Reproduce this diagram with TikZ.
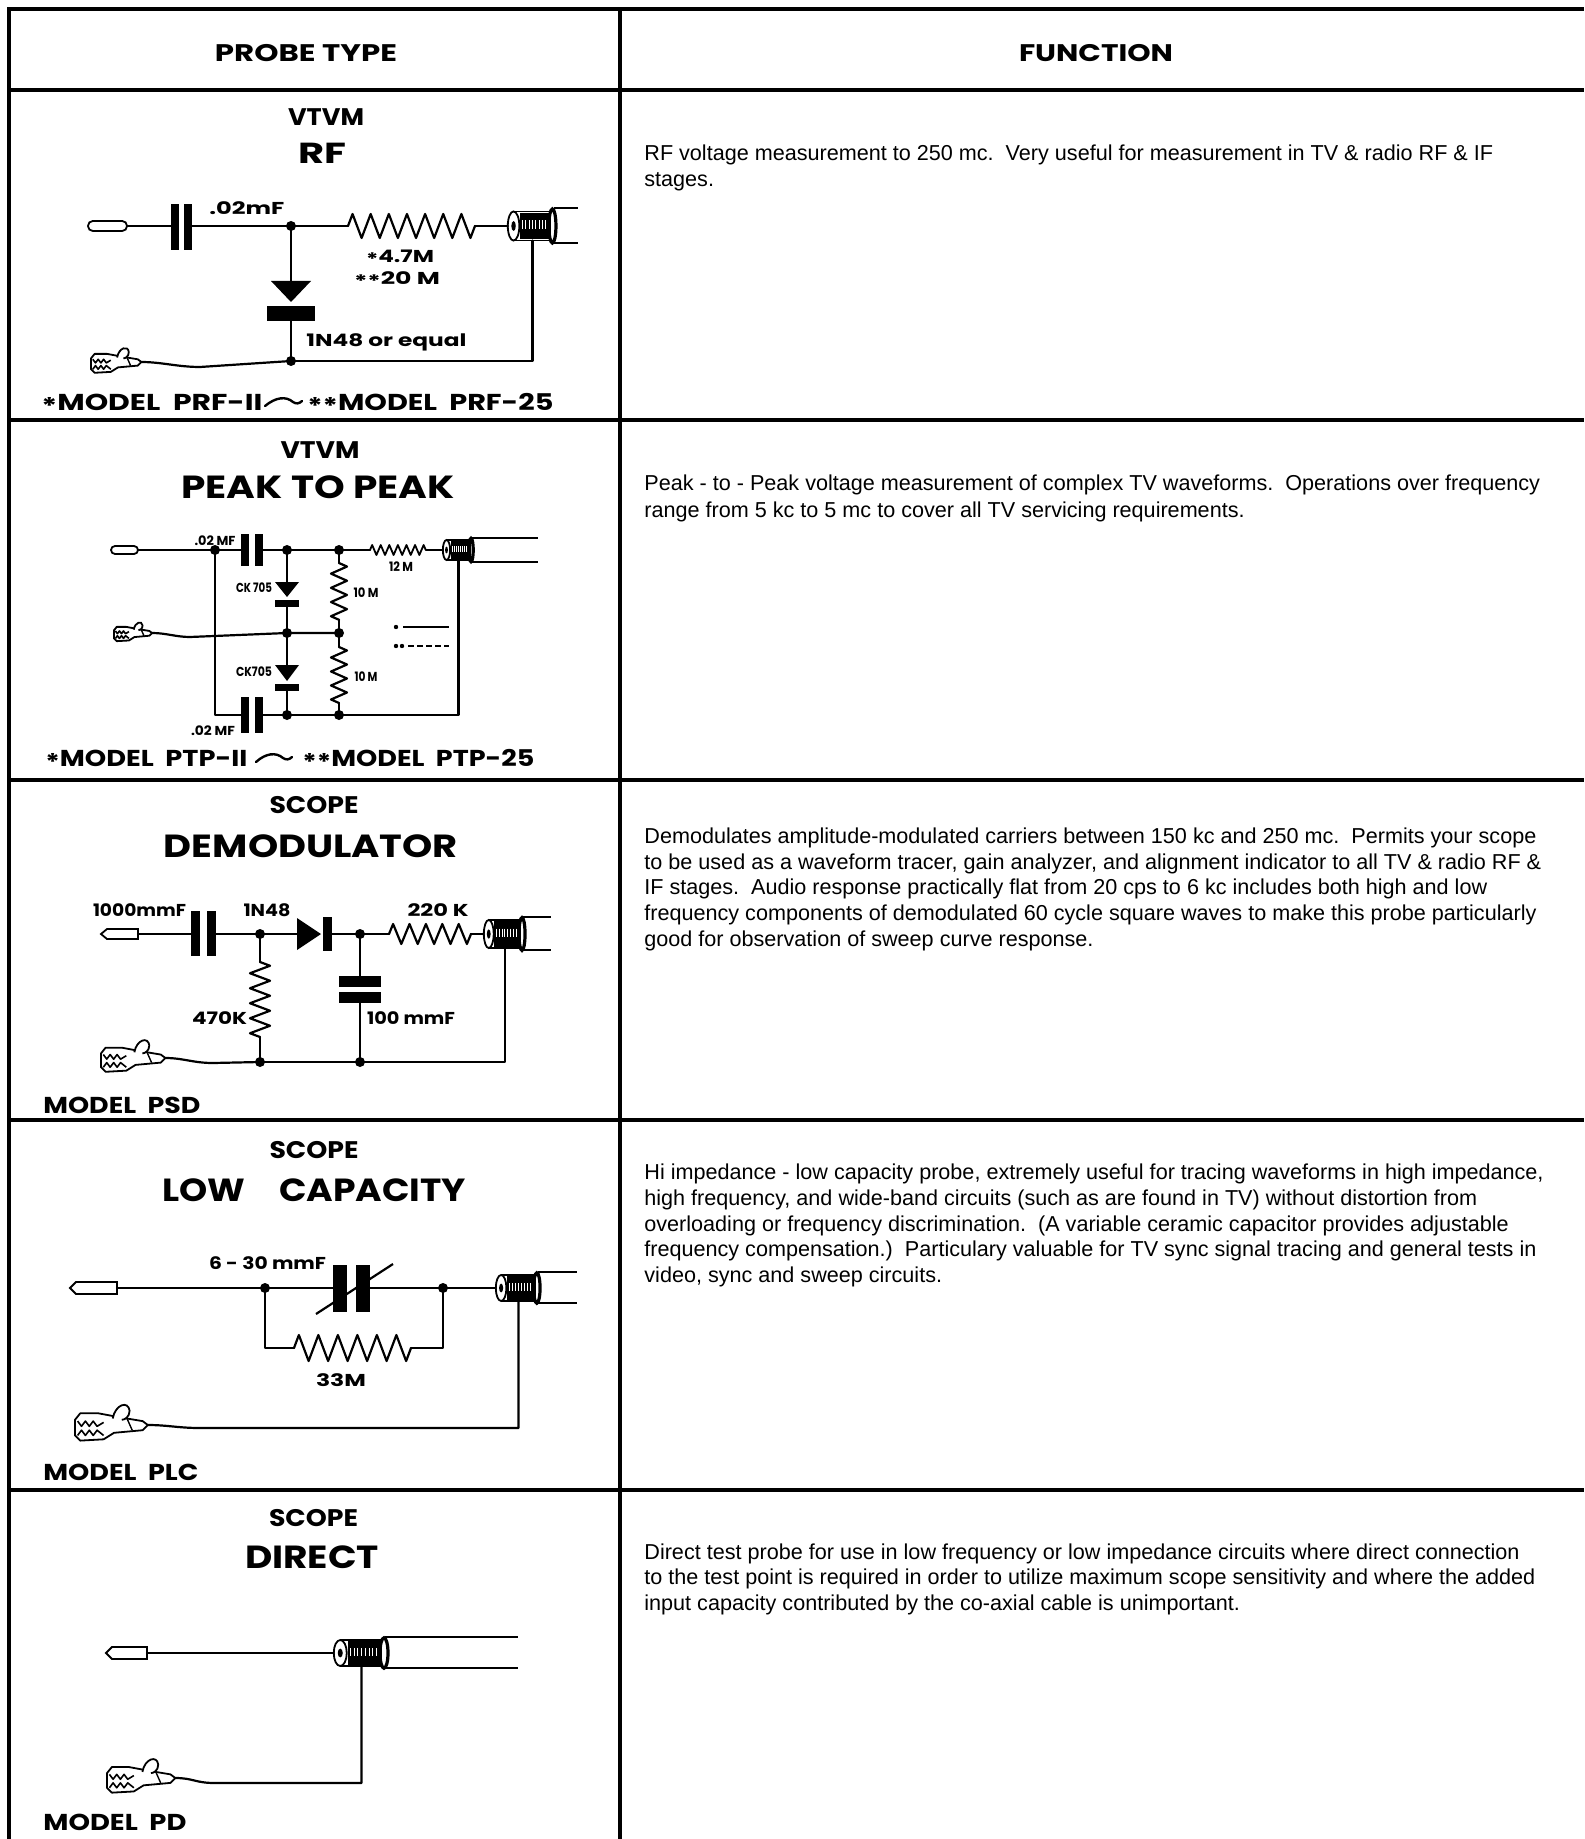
\documentclass[tikz,border=0pt]{standalone}
\usepackage{fontspec}
\usepackage{graphicx}
\usetikzlibrary{decorations.pathmorphing}
\setmainfont{Liberation Sans}
\newfontfamily\tfont{Poppins}
\newlength\pxu \setlength\pxu{0.5pt}
\newcommand\fw[2]{\resizebox{#1\pxu}{\height}{#2}}
\newcommand\stb{\raisebox{-0.3ex}{*}}
% coax connector: name, x-left, y-centre, xscale, yscale, cable end x
\newcommand\coax[6]{%
 \begin{scope}[shift={(#2,#3)}, xscale=#4, yscale=#5]
  \coordinate (#1-in) at (0,0);
  \coordinate (#1-g) at (22,13);
  \draw[line width=0.9pt, fill=white] (5,-13) -- (38,-13) -- (38,13) -- (5,13);
  \fill (11,-12) rectangle (37,12);
  \foreach \i in {13,16,...,35} \draw[white, line width=0.45pt] (\i,-5) -- (\i,3);
  \draw[line width=0.9pt, fill=white] (5,0) ellipse [x radius=2.6pt, y radius=6.5pt];
  \fill (5,0) ellipse [x radius=1pt, y radius=2.2pt];
  \draw[line width=1.6pt] (40,0) ellipse [x radius=1.6pt, y radius=7.6pt];
  \draw[line width=1pt] (41,-16) -- ({(#6-#2)/#4},-16);
  \draw[line width=1pt] (41,15) -- ({(#6-#2)/#4},15);
 \end{scope}}
\tikzset{
 wire/.style={line width=1.1pt, line cap=round, line join=round},
 border/.style={line width=1.8pt},
 dot/.style={circle, fill=black, inner sep=0pt, minimum size=5pt},
 lbl/.style={inner sep=0pt, font=\tfont\bfseries\fontsize{8.6}{10}\selectfont},
 slbl/.style={inner sep=0pt, font=\tfont\bfseries\fontsize{6.5}{8}\selectfont},
 ttl/.style={inner sep=0pt, font=\tfont\bfseries\fontsize{16}{18}\selectfont},
 sub/.style={inner sep=0pt, font=\tfont\bfseries\fontsize{12}{14}\selectfont},
 model/.style={inner sep=0pt, anchor=west, font=\tfont\bfseries\fontsize{11.5}{13}\selectfont},
 ftext/.style={inner sep=0pt, anchor=base west, font=\fontsize{10.8}{12.9}\selectfont},
 res/.style 2 args={decorate, decoration={zigzag, segment length=#1, amplitude=#2}},
 swash/.style={line width=1.2pt, line cap=round},
 probe/.style={line width=0.9pt, fill=white},
 pics/gclip/.style={code={
  \coordinate (-t) at (56,0);
  \draw[line width=0.9pt, fill=white, line join=round] (0,-4) -- (4,-9) -- (18,-9) -- (34,-6) -- (52,-3) -- (56,0) -- (52,4) -- (30,6) -- (22,11) -- (4,12) -- (0,8) -- cycle;
  \draw[line width=0.8pt, line join=round] (2,-3) -- (5,1) -- (8,-3) -- (11,1) -- (14,-3) -- (17,1) -- (22,-2);
  \draw[line width=0.8pt, line join=round] (2,8) -- (5,4) -- (8,8) -- (11,4) -- (14,8) -- (17,4) -- (22,8);
  \draw[line width=0.9pt, fill=white] (29,-5) .. controls (31,-16) and (41,-19) .. (42,-11) .. controls (42,-6) and (38,-4) .. (36,-4);
  \draw[line width=0.7pt] (40,-5) -- (44,4);
 }}
}
\begin{document}
\begin{tikzpicture}[x=0.5pt, y=-0.5pt]
\useasboundingbox (0,0) rectangle (1584,1839);
\fill[white] (0,0) rectangle (1584,1839);
% ---------- table grid ----------
\draw[border] (9,1839) -- (9,9) -- (1584,9);
\draw[border] (620,9) -- (620,1839);
\foreach \yy in {90,420,780,1120,1490} \draw[border] (9,\yy) -- (1584,\yy);
% ---------- header ----------
\node[sub] (hProbe) at (306,53) {\fw{182}{PROBE TYPE}};
\node[sub] (hFunc) at (1096,53) {\fw{154}{FUNCTION}};
% ---------- function texts ----------
\node[ftext] (f1a) at (644,161) {RF voltage measurement to 250 mc.\ \ Very useful for measurement in TV \& radio RF \& IF};
\node[ftext] (f1b) at (644,187) {stages.};
\node[ftext] (f2a) at (644,491) {Peak - to - Peak voltage measurement of complex TV waveforms.\ \ Operations over frequency};
\node[ftext] (f2b) at (644,517) {range from 5 kc to 5 mc to cover all TV servicing requirements.};
\node[ftext] (f3a) at (644,843) {Demodulates amplitude-modulated carriers between 150 kc and 250 mc.\ \ Permits your scope};
\node[ftext] (f3b) at (644,869) {to be used as a waveform tracer, gain analyzer, and alignment indicator to all TV \& radio RF \&};
\node[ftext] (f3c) at (644,894.6) {IF stages.\ \ Audio response practically flat from 20 cps to 6 kc includes both high and low};
\node[ftext] (f3d) at (644,920.4) {frequency components of demodulated 60 cycle square waves to make this probe particularly};
\node[ftext] (f3e) at (644,946.2) {good for observation of sweep curve response.};
\node[ftext] (f4a) at (644,1179.5) {Hi impedance - low capacity probe, extremely useful for tracing waveforms in high impedance,};
\node[ftext] (f4b) at (644,1205.3) {high frequency, and wide-band circuits (such as are found in TV) without distortion from};
\node[ftext] (f4c) at (644,1231.1) {overloading or frequency discrimination.\ \ (A variable ceramic capacitor provides adjustable};
\node[ftext] (f4d) at (644,1256.9) {frequency compensation.)\ \ Particulary valuable for TV sync signal tracing and general tests in};
\node[ftext] (f4e) at (644,1282.7) {video, sync and sweep circuits.};
\node[ftext] (f5a) at (644,1559) {Direct test probe for use in low frequency or low impedance circuits where direct connection};
\node[ftext] (f5b) at (644,1584.8) {to the test point is required in order to utilize maximum scope sensitivity and where the added};
\node[ftext] (f5c) at (644,1610.6) {input capacity contributed by the co-axial cable is unimportant.};

% ================= RF =================
\node[sub] (rfSub) at (326,117) {\fw{76}{VTVM}};
\node[ttl, font=\tfont\bfseries\fontsize{14.5}{16}\selectfont] (rfTtl) at (322,153) {\fw{48}{RF}};
\draw[probe, rounded corners=2.4pt] (88,221) rectangle (127,231);
\coordinate (rfP) at (127,226);
\fill (171,204) rectangle (179,250); \fill (184,204) rectangle (192,250);
\coordinate (rfCa) at (171,226); \coordinate (rfCb) at (192,226);
\node[dot] (rfJ1) at (291,226) {};
\coordinate (rfRa) at (348,226); \coordinate (rfRb) at (475,226);
\coax{rf}{508}{226}{1.11}{1.12}{578}
\draw[wire] (rfP) -- (rfCa);
\draw[wire] (rfCb) -- (rfJ1.center) -- (rfRa);
\draw[wire, res={9.07pt}{6pt}] (rfRa) -- (rfRb);
\draw[wire] (rfRb) -- (rf-in);
\fill (271,281) -- (311,281) -- (291,302) -- cycle;
\fill (267,306) rectangle (315,321);
\coordinate (rfDa) at (291,281); \coordinate (rfDb) at (291,321);
\node[dot] (rfJ2) at (291,361) {};
\draw[wire] (rfJ1.center) -- (rfDa);
\draw[wire] (rfDb) -- (rfJ2.center);
\draw[wire] (rf-g) |- (rfJ2.center);
\pic[scale=0.9] (rfclip) at (91,362) {gclip};
\coordinate (rfW) at (200,367);
\draw[wire] (rfclip-t) .. controls +(20,0) and +(-22,0) .. (rfW) -- (rfJ2.center);
\node[lbl, anchor=west] (rfL1) at (209,208) {\fw{75}{.02mF}};
\node[lbl] (rfL2) at (400,258) {\fw{68}{\stb 4.7M}};
\node[lbl] (rfL3) at (397,280) {\fw{86}{\stb\stb 20 M}};
\node[lbl, anchor=west] (rfL4) at (306,342) {\fw{160}{1N48 or equal}};
\node[model] (rfM1) at (41,404) {\fw{221}{\stb MODEL\ \ PRF-II}};
\coordinate (rfS1) at (265,406); \coordinate (rfS2) at (302,401);
\draw[swash] (rfS1) .. controls (276,397) and (286,396) .. (293,402) .. controls (296,404) and (299,404) .. (rfS2);
\node[model] (rfM2) at (307,404) {\fw{246}{\stb\stb MODEL\ \ PRF-25}};

% ================= PEAK TO PEAK =================
\node[sub] (ptSub) at (320,450) {\fw{79}{VTVM}};
\node[ttl] (ptTtl) at (318,487) {\fw{273}{PEAK TO PEAK}};
\draw[probe, rounded corners=2pt] (111,546) rectangle (138,554);
\coordinate (ptP) at (138,550);
\node[dot] (ptJ1) at (215,550) {};
\fill (241,534) rectangle (249,566); \fill (255,534) rectangle (263,566);
\coordinate (ptCa) at (241,550); \coordinate (ptCb) at (263,550);
\node[dot] (ptJ2) at (287,550) {};
\node[dot] (ptJ3) at (339,550) {};
\coordinate (ptRa) at (370,550); \coordinate (ptRb) at (430,550);
\coax{pt}{443}{550}{0.70}{0.77}{538}
\draw[wire] (ptP) -- (ptJ1.center) -- (ptCa);
\draw[wire] (ptCb) -- (ptJ2.center) -- (ptJ3.center) -- (ptRa);
\draw[wire, line width=0.9pt, res={4.29pt}{2.5pt}] (ptRa) -- (ptRb);
\draw[wire] (ptRb) -- (pt-in);
\coordinate (ptBL) at (215,715);
\fill (241,697) rectangle (249,733); \fill (255,697) rectangle (263,733);
\coordinate (ptCc) at (241,715); \coordinate (ptCd) at (263,715);
\node[dot] (ptJ4) at (287,715) {};
\node[dot] (ptJ5) at (339,715) {};
\draw[wire] (ptJ1.center) -- (ptBL) -- (ptCc);
\draw[wire] (ptCd) -- (ptJ4.center) -- (ptJ5.center) -| (pt-g);
\node[dot] (ptJ6) at (287,633) {};
\node[dot] (ptJ7) at (339,633) {};
\pic[scale=0.68] (ptclip) at (114,633) {gclip};
\coordinate (ptW) at (190,637);
\draw[wire] (ptclip-t) .. controls +(14,0) and +(-14,0) .. (ptW) -- (ptJ6.center) -- (ptJ7.center);
\fill (275,582) -- (299,582) -- (287,597) -- cycle; \fill (275,600) rectangle (299,607);
\coordinate (ptDa) at (287,582); \coordinate (ptDb) at (287,607);
\fill (275,665) -- (299,665) -- (287,681) -- cycle; \fill (275,684) rectangle (299,691);
\coordinate (ptDc) at (287,665); \coordinate (ptDd) at (287,691);
\draw[wire] (ptJ2.center) -- (ptDa);
\draw[wire] (ptDb) -- (ptJ6.center) -- (ptDc);
\draw[wire] (ptDd) -- (ptJ4.center);
\coordinate (ptR1a) at (339,563); \coordinate (ptR1b) at (339,620);
\coordinate (ptR2a) at (339,647); \coordinate (ptR2b) at (339,703);
\draw[wire] (ptJ3.center) -- (ptR1a);
\draw[wire, res={7.1pt}{4pt}] (ptR1a) -- (ptR1b);
\draw[wire] (ptR1b) -- (ptJ7.center) -- (ptR2a);
\draw[wire, res={7pt}{4pt}] (ptR2a) -- (ptR2b);
\draw[wire] (ptR2b) -- (ptJ5.center);
\node[slbl] (ptL1) at (215,541) {\fw{41}{.02 MF}};
\node[slbl] (ptL2) at (401,567) {\fw{24}{12 M}};
\node[slbl] (ptL3) at (254,588) {\fw{36}{CK 705}};
\node[slbl] (ptL4) at (366,593) {\fw{25}{10 M}};
\node[slbl] (ptL5) at (254,672) {\fw{36}{CK705}};
\node[slbl] (ptL6) at (366,677) {\fw{23}{10 M}};
\node[slbl] (ptL7) at (213,731) {\fw{44}{.02 MF}};
\node[dot, minimum size=2.2pt] (ptG1) at (396,627) {};
\coordinate (ptG1a) at (403,627); \coordinate (ptG1b) at (449,627);
\draw[line width=0.8pt] (ptG1a) -- (ptG1b);
\node[dot, minimum size=2.2pt] (ptG2) at (396,646) {};
\node[dot, minimum size=2.2pt] (ptG3) at (402,646) {};
\coordinate (ptG2a) at (408,646); \coordinate (ptG2b) at (449,646);
\draw[line width=0.8pt, dash pattern=on 3pt off 1.5pt] (ptG2a) -- (ptG2b);
\node[model] (ptM1) at (45,760) {\fw{202}{\stb MODEL\ \ PTP-II}};
\coordinate (ptS1) at (256,762); \coordinate (ptS2) at (292,757);
\draw[swash] (ptS1) .. controls (266,753) and (276,752) .. (283,758) .. controls (286,760) and (289,760) .. (ptS2);
\node[model] (ptM2) at (302,760) {\fw{232}{\stb\stb MODEL\ \ PTP-25}};

% ================= DEMODULATOR =================
\node[sub] (dmSub) at (314,805) {\fw{89}{SCOPE}};
\node[ttl] (dmTtl) at (311,846) {\fw{294}{DEMODULATOR}};
\draw[probe] (101,934) -- (107,929) -- (138,929) -- (138,939) -- (107,939) -- cycle;
\coordinate (dmP) at (138,934);
\fill (191,911) rectangle (200,956); \fill (207,911) rectangle (216,956);
\coordinate (dmCa) at (191,934); \coordinate (dmCb) at (216,934);
\node[dot] (dmJ1) at (260,934) {};
\fill (297,918) -- (297,950) -- (321,934) -- cycle; \fill (323,917) rectangle (332,951);
\coordinate (dmDa) at (297,934); \coordinate (dmDb) at (332,934);
\node[dot] (dmJ2) at (360,934) {};
\coordinate (dmRa) at (389,934); \coordinate (dmRb) at (471,934);
\coax{dm}{484}{934}{0.95}{1.08}{551}
\draw[wire] (dmP) -- (dmCa);
\draw[wire] (dmCb) -- (dmJ1.center) -- (dmDa);
\draw[wire] (dmDb) -- (dmJ2.center) -- (dmRa);
\draw[wire, res={8.2pt}{5pt}] (dmRa) -- (dmRb);
\draw[wire] (dmRb) -- (dm-in);
\coordinate (dmR2a) at (260,962); \coordinate (dmR2b) at (260,1037);
\fill (339,976) rectangle (381,987); \fill (339,992) rectangle (381,1003);
\coordinate (dmC2a) at (360,976); \coordinate (dmC2b) at (360,1003);
\node[dot] (dmJ3) at (260,1062) {};
\node[dot] (dmJ4) at (360,1062) {};
\draw[wire] (dmJ1.center) -- (dmR2a);
\draw[wire, res={7.5pt}{5pt}] (dmR2a) -- (dmR2b);
\draw[wire] (dmR2b) -- (dmJ3.center);
\draw[wire] (dmJ2.center) -- (dmC2a);
\draw[wire] (dmC2b) -- (dmJ4.center);
\draw[wire] (dm-g) |- (dmJ4.center) -- (dmJ3.center);
\pic[scale=1.15] (dmclip) at (101,1058) {gclip};
\coordinate (dmW) at (213,1063);
\draw[wire] (dmclip-t) .. controls +(18,0) and +(-20,0) .. (dmW) -- (dmJ3.center);
\node[lbl] (dmL1) at (139.5,910) {\fw{93}{1000mmF}};
\node[lbl] (dmL2) at (267,910) {\fw{47}{1N48}};
\node[lbl] (dmL3) at (438,910) {\fw{61}{220 K}};
\node[lbl] (dmL4) at (219.5,1018) {\fw{55}{470K}};
\node[lbl] (dmL5) at (411,1018) {\fw{88}{100 mmF}};
\node[model] (dmM) at (43,1105) {\fw{157}{MODEL\ \ PSD}};

% ================= LOW CAPACITY =================
\node[sub] (lcSub) at (314,1150) {\fw{89}{SCOPE}};
\node[ttl] (lcTtlA) at (203.5,1190) {\fw{83}{LOW}};
\node[ttl] (lcTtlB) at (372.5,1190) {\fw{187}{CAPACITY}};
\draw[probe] (70,1288) -- (76,1282) -- (117,1282) -- (117,1294) -- (76,1294) -- cycle;
\coordinate (lcP) at (117,1288);
\node[dot] (lcJ1) at (265,1288) {};
\fill (333,1265) rectangle (347,1312); \fill (356,1265) rectangle (370,1312);
\coordinate (lcCa) at (333,1288); \coordinate (lcCb) at (370,1288);
\coordinate (lcTa) at (316,1314); \coordinate (lcTb) at (393,1264);
\draw[line width=1.1pt] (lcTa) -- (lcTb);
\node[dot] (lcJ2) at (443,1288) {};
\coax{lc}{496}{1288}{1.02}{1.0}{577}
\draw[wire] (lcP) -- (lcJ1.center) -- (lcCa);
\draw[wire] (lcCb) -- (lcJ2.center) -- (lc-in);
\coordinate (lcB1) at (265,1348); \coordinate (lcRa) at (294,1348);
\coordinate (lcRb) at (411,1348); \coordinate (lcB2) at (443,1348);
\draw[wire] (lcJ1.center) -- (lcB1) -- (lcRa);
\draw[wire, res={9.75pt}{6.5pt}] (lcRa) -- (lcRb);
\draw[wire] (lcRb) -- (lcB2) -- (lcJ2.center);
\pic[scale=1.3] (lcclip) at (75,1425) {gclip};
\coordinate (lcW) at (200,1428);
\draw[wire] (lcclip-t) .. controls +(20,0) and +(-22,0) .. (lcW) -- (lcW -| lc-g) -- (lc-g);
\node[lbl] (lcL1) at (267.5,1263) {\fw{117}{6 - 30 mmF}};
\node[lbl] (lcL2) at (341,1380) {\fw{50}{33M}};
\node[model] (lcM) at (43,1472) {\fw{155}{MODEL\ \ PLC}};

% ================= DIRECT =================
\node[sub] (drSub) at (313.5,1518) {\fw{89}{SCOPE}};
\node[ttl] (drTtl) at (312,1557) {\fw{134}{DIRECT}};
\draw[probe] (106,1653) -- (112,1647) -- (147,1647) -- (147,1659) -- (112,1659) -- cycle;
\coordinate (drP) at (147,1653);
\coax{dr}{334}{1653}{1.25}{1.0}{518}
\draw[wire] (drP) -- (dr-in);
\pic[scale=1.22] (drclip) at (107,1778) {gclip};
\coordinate (drW) at (215,1783);
\draw[wire] (drclip-t) .. controls +(18,0) and +(-20,0) .. (drW) -- (drW -| dr-g) -- (dr-g);
\node[model] (drM) at (43,1822) {\fw{143}{MODEL\ \ PD}};
\end{tikzpicture}
\end{document}
